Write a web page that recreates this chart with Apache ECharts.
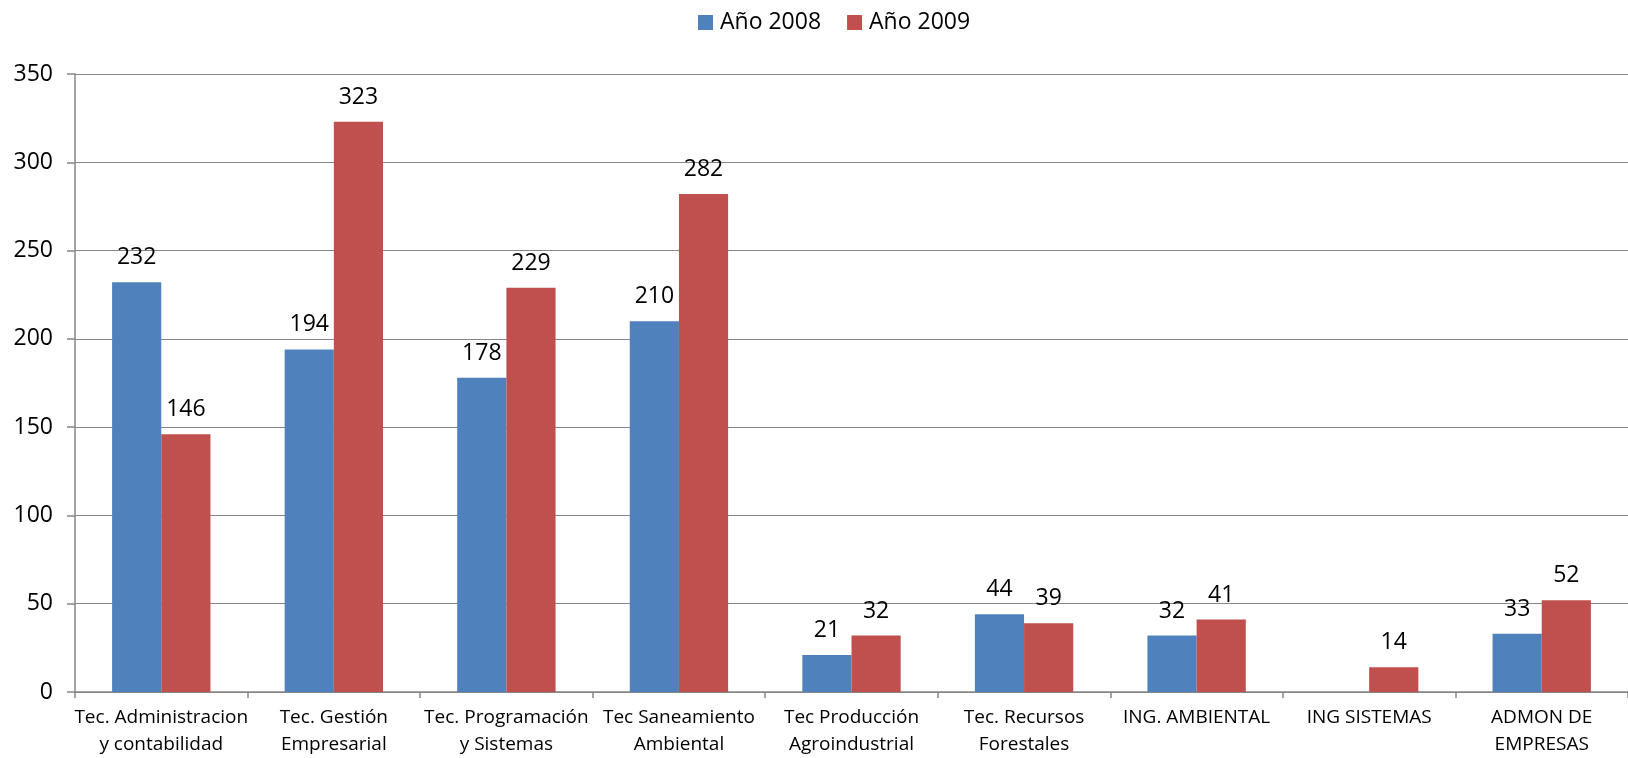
<!DOCTYPE html>
<html>
<head>
    <meta charset="utf-8">
    <script src="https://cdn.jsdelivr.net/npm/echarts@6/dist/echarts.min.js"></script>
    <style>
        html, body { margin: 0; padding: 0; background: #fff; }
    </style>
</head>
<body>
    <div id="main" style="width: 1628px; height: 758px;"></div>
    <script type="text/javascript">
        // datos
        var categorias = [
            'Tec. Administracion\ny contabilidad',
            'Tec. Gestión\nEmpresarial',
            'Tec. Programación\ny Sistemas',
            'Tec Saneamiento\nAmbiental',
            'Tec Producción\nAgroindustrial',
            'Tec. Recursos\nForestales',
            'ING. AMBIENTAL',
            'ING SISTEMAS',
            'ADMON DE\nEMPRESAS'
        ];
        var anio2008 = [232, 194, 178, 210, 21, 44, 32, null, 33];
        var anio2009 = [146, 323, 229, 282, 32, 39, 41, 14, 52];
        var ejeY = { min: 0, max: 350, interval: 50 };

        var fuente = 'Open Sans';
        var myChart = echarts.init(document.getElementById('main'));

        var etiqueta = {
            show: true,
            position: 'top',
            distance: 13,
            color: '#000',
            fontFamily: fuente,
            fontSize: 23
        };

        var option = {
            backgroundColor: '#fff',
            animation: false,
            legend: {
                top: 6,
                left: 693,
                itemWidth: 15,
                itemHeight: 15,
                itemGap: 26,
                icon: 'rect',
                textStyle: { fontFamily: fuente, fontSize: 23, color: '#000', padding: [0, 0, 0, 2] },
                data: ['Año 2008', 'Año 2009']
            },
            grid: { left: 75, right: 0, top: 74, bottom: 66, containLabel: false },
            xAxis: {
                type: 'category',
                data: categorias,
                axisLine: { lineStyle: { color: '#868686', width: 1.5 } },
                axisTick: { show: true, length: 6, lineStyle: { color: '#868686', width: 1.5 } },
                axisLabel: {
                    interval: 0,
                    margin: 12,
                    lineHeight: 27,
                    color: '#000',
                    fontFamily: fuente,
                    fontSize: 19
                }
            },
            yAxis: {
                type: 'value',
                min: ejeY.min,
                max: ejeY.max,
                interval: ejeY.interval,
                axisLine: { show: true, lineStyle: { color: '#868686', width: 1.5 } },
                axisTick: { show: true, length: 8, lineStyle: { color: '#868686', width: 1.5 } },
                splitLine: { lineStyle: { color: '#868686', width: 1.2 } },
                axisLabel: {
                    margin: 22,
                    color: '#000',
                    fontFamily: fuente,
                    fontSize: 23
                }
            },
            series: [
                {
                    name: 'Año 2008',
                    type: 'bar',
                    data: anio2008,
                    barGap: '0%',
                    barCategoryGap: '43%',
                    itemStyle: { color: '#4F81BD' },
                    label: etiqueta
                },
                {
                    name: 'Año 2009',
                    type: 'bar',
                    data: anio2009,
                    barGap: '0%',
                    barCategoryGap: '43%',
                    itemStyle: { color: '#C0504D' },
                    label: etiqueta
                }
            ]
        };

        myChart.setOption(option);
    </script>
</body>
</html>
